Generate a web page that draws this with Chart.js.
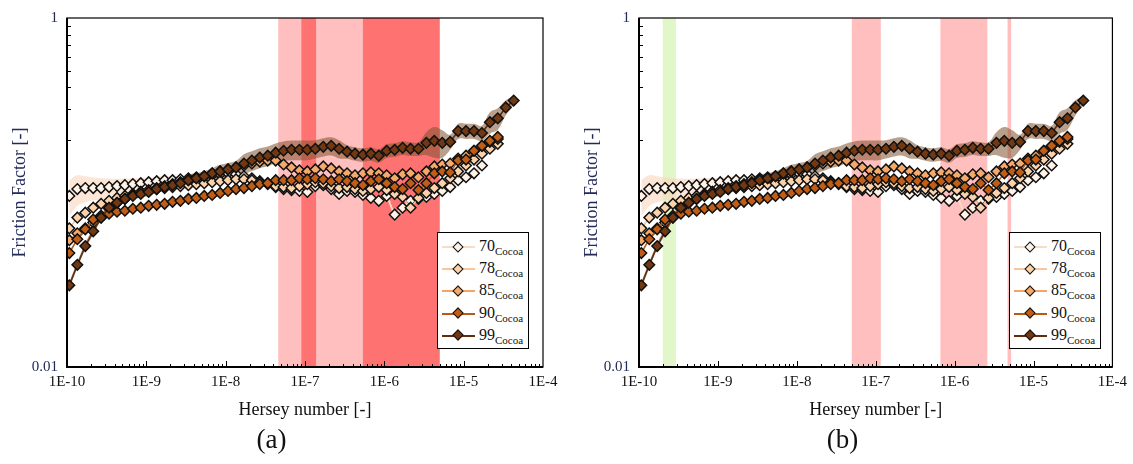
<!DOCTYPE html>
<html>
<head>
<meta charset="utf-8">
<script src="https://cdn.jsdelivr.net/npm/chart.js@4.4.1/dist/chart.umd.min.js"></script>
<style>
html,body{margin:0;padding:0;background:#fff;}
#wrap{position:relative;width:1133px;height:464px;overflow:hidden;font-family:"Liberation Serif","DejaVu Serif",serif;}
.panel{position:absolute;top:0;height:464px;}
.panel canvas{position:absolute;left:0;top:0;}
.legend{position:absolute;left:437px;top:232px;width:92px;height:117px;border:1.5px solid #000;background:#fff;box-sizing:border-box;}
.row{position:absolute;left:0;width:90px;height:22px;}
.ln{position:absolute;left:4px;width:33px;height:2px;top:10px;}
.dm{position:absolute;left:15.5px;top:6.5px;width:6px;height:6px;transform:rotate(45deg);border:1.5px solid #111;}
.lab{position:absolute;left:41px;top:1px;font-size:16px;line-height:18px;color:#111;white-space:nowrap;}
.lab sub{font-size:11px;vertical-align:-4px;line-height:0;}
</style>
</head>
<body>
<div id="wrap">
  <div class="panel" id="pa" style="left:0;width:566px;"><canvas id="ca" width="566" height="464"></canvas><div class="legend" id="la"></div></div>
  <div class="panel" id="pb" style="left:572px;width:561px;"><canvas id="cb" width="561" height="464"></canvas><div class="legend" id="lb"></div></div>
</div>
<script>
// ---------------- DATA ----------------
const hersey = [
 1.07e-10,1.35e-10,1.70e-10,2.14e-10,2.69e-10,3.39e-10,4.27e-10,5.37e-10,6.76e-10,8.51e-10,
 1.07e-9,1.35e-9,1.70e-9,2.14e-9,2.69e-9,3.39e-9,4.27e-9,5.37e-9,6.76e-9,8.51e-9,
 1.07e-8,1.35e-8,1.70e-8,2.14e-8,2.69e-8,3.39e-8,4.27e-8,5.37e-8,6.76e-8,8.51e-8,
 1.07e-7,1.35e-7,1.70e-7,2.14e-7,2.69e-7,3.39e-7,4.27e-7,5.37e-7,6.76e-7,8.51e-7,
 1.07e-6,1.35e-6,1.70e-6,2.14e-6,2.69e-6,3.39e-6,4.27e-6,5.37e-6,6.76e-6,8.51e-6,
 1.07e-5,1.35e-5,1.70e-5,2.14e-5,2.69e-5,3.39e-5,4.27e-5
];
const cocoa70 = [0.0956,0.1047,0.1060,0.1060,0.1060,0.1074,0.1088,0.1102,0.1117,0.1131,
 0.1146,0.1161,0.1176,0.1176,0.1191,0.1207,0.1223,0.1239,0.1255,0.1271,
 0.1288,0.1271,0.1239,0.1207,0.1161,0.1131,0.1074,0.1047,0.1033,0.1020,
 0.1007,0.1088,0.1102,0.1047,0.0981,0.1020,0.1007,0.0968,0.0931,0.0896,
 0.0956,0.0747,0.0818,0.0896,0.0919,0.0943,0.0981,0.1020,0.1074,0.1176,
 0.1223,0.1288,0.1428];
const cocoa78 = [0.0623,0.0718,0.0766,0.0818,0.0861,0.0896,0.0931,0.0956,0.0981,0.1007,
 0.1020,0.1047,0.1060,0.1074,0.1088,0.1102,0.1117,0.1131,0.1146,0.1161,
 0.1176,0.1191,0.1191,0.1176,0.1146,0.1117,0.1088,0.1074,0.1060,0.1088,
 0.1117,0.1146,0.1131,0.1088,0.1060,0.1074,0.1047,0.1020,0.1047,0.1074,
 0.1033,0.0981,0.0943,0.0818,0.0931,0.0994,0.1060,0.1131,0.1207,0.1321,
 0.1428,0.1544,0.1669,0.1781,0.1900];
const cocoa85 = [0.0533,0.0584,0.0623,0.0673,0.0718,0.0807,0.0873,0.0919,0.0968,0.1007,
 0.1033,0.1060,0.1088,0.1117,0.1146,0.1176,0.1207,0.1239,0.1288,0.1321,
 0.1356,0.1392,0.1428,0.1466,0.1505,0.1524,0.1524,0.1447,0.1392,0.1339,
 0.1321,0.1356,0.1410,0.1374,0.1321,0.1288,0.1255,0.1288,0.1304,0.1288,
 0.1255,0.1207,0.1271,0.1288,0.1223,0.1321,0.1410,0.1447,0.1466,0.1564,
 0.1626,0.1735,0.1851,0.1950,0.2028];
const cocoa90 = [0.0450,0.0540,0.0615,0.0700,0.0737,0.0756,0.0776,0.0786,0.0807,0.0818,
 0.0839,0.0850,0.0861,0.0884,0.0896,0.0919,0.0931,0.0956,0.0968,0.0994,
 0.1020,0.1047,0.1060,0.1088,0.1117,0.1131,0.1176,0.1176,0.1176,0.1207,
 0.1191,0.1207,0.1191,0.1161,0.1191,0.1161,0.1131,0.1102,0.1161,0.1191,
 0.1131,0.1074,0.1047,0.1131,0.1033,0.1131,0.1288,0.1321,0.1304,0.1524,
 0.1544,0.1735,0.1851,0.1976,0.2082];
const cocoa99 = [0.0294,0.0385,0.0493,0.0599,0.0718,0.0818,0.0873,0.0919,0.0956,0.0981,
 0.1007,0.1047,0.1074,0.1102,0.1131,0.1176,0.1207,0.1239,0.1288,0.1321,
 0.1356,0.1392,0.1466,0.1524,0.1585,0.1626,0.1691,0.1735,0.1758,0.1758,
 0.1758,0.1781,0.1828,0.1851,0.1781,0.1713,0.1669,0.1647,0.1669,0.1626,
 0.1735,0.1758,0.1804,0.1781,0.1781,0.1925,0.1976,0.1925,0.1950,0.2250,
 0.2250,0.2250,0.2193,0.2528,0.2663,0.3072,0.3363];
// relative standard deviation (shaded envelopes)
const sd70 = [0.23,0.20,0.17,0.15,0.14,0.12,0.10,0.09,0.08,0.07,
 0.06,0.06,0.05,0.05,0.05,0.05,0.05,0.05,0.05,0.05,
 0.04,0.04,0.04,0.04,0.04,0.04,0.04,0.04,0.04,0.04,
 0.04,0.04,0.04,0.04,0.04,0.04,0.04,0.04,0.04,0.04,
 0.04,0.04,0.04,0.04,0.04,0.04,0.04,0.04,0.04,0.04,
 0.04,0.04,0.04];
const sd99 = [0.04,0.04,0.04,0.04,0.04,0.04,0.04,0.04,0.04,0.05,
 0.05,0.05,0.05,0.05,0.05,0.07,0.07,0.07,0.07,0.09,
 0.09,0.09,0.13,0.13,0.13,0.13,0.13,0.13,0.13,0.13,
 0.13,0.12,0.12,0.12,0.12,0.09,0.09,0.09,0.09,0.09,
 0.09,0.09,0.09,0.09,0.09,0.15,0.20,0.18,0.10,0.10,
 0.10,0.10,0.10,0.14,0.14,0.10,0.06];
const seriesNames = ['70','78','85','90','99'];
const xTickValues = [1e-10,1e-9,1e-8,1e-7,1e-6,1e-5,1e-4];
const yTickValues = [0.01,1];
const yMinorValues = [0.2,0.3,0.4,0.5,0.6,0.7,0.8,0.9];
// highlighted Hersey ranges
const rangeStartA = [4.60e-8,9.00e-8,5.35e-7];
const rangeEndA   = [5.35e-7,1.38e-7,5.00e-6];
const rangeKindA  = ['light','dark','dark'];
const rangeStartB = [2.00e-10,4.97e-8,6.60e-7,4.69e-6];
const rangeEndB   = [2.95e-10,1.16e-7,2.60e-6,5.20e-6];
const rangeKindB  = ['green','light','light','light'];

// ---------------- STYLE ----------------
const FONT = "'Liberation Serif','Times New Roman',serif";
const NAVY = '#222a58';
const fillCol = {'70':'#fff2e6','78':'#fcd2ab','85':'#f5aa6c','90':'#c05e18','99':'#713811'};
const lineCol = {'70':'#f9dcc6','78':'#f8c59c','85':'#f2a566','90':'#b85a16','99':'#5e2e0e'};
const kindCol = {light:'#ffbfbf', dark:'#ff7272', green:'#e1f6c9'};
const seriesVals = {'70':cocoa70,'78':cocoa78,'85':cocoa85,'90':cocoa90,'99':cocoa99};

function pts(vals){ return vals.map((v,i)=>({x:hersey[i], y:v})); }
function env(vals, sd, sign){ return vals.map((v,i)=>({x:hersey[i], y:v*(1+sign*sd[i])})); }

const decor = {
  id:'decor',
  beforeDatasetsDraw(chart, args, o){
    const {ctx, chartArea:a, scales:{x}} = chart;
    ctx.save();
    for (let i=0;i<o.starts.length;i++){
      const x1 = x.getPixelForValue(o.starts[i]);
      const x2 = x.getPixelForValue(o.ends[i]);
      ctx.fillStyle = kindCol[o.kinds[i]];
      ctx.fillRect(x1, a.top, x2-x1, a.bottom-a.top);
    }
    ctx.restore();
  },
  afterDatasetsDraw(chart){
    const {ctx, chartArea:a, scales:{x,y}} = chart;
    ctx.save();
    ctx.strokeStyle = '#000';
    ctx.lineWidth = 1;
    ctx.beginPath();
    for (let d=-10; d<=-5; d++){
      for (let m=1; m<=9; m++){
        const px = Math.round(x.getPixelForValue(m*Math.pow(10,d)))+0.5;
        const len = m===1?6:3;
        ctx.moveTo(px, a.bottom); ctx.lineTo(px, a.bottom-len);
      }
    }
    yMinorValues.forEach(v=>{
      const py = Math.round(y.getPixelForValue(v))+0.5;
      ctx.moveTo(a.left, py); ctx.lineTo(a.left+4, py);
    });
    ctx.stroke();
    ctx.lineWidth = 1.2;
    ctx.strokeRect(a.left, a.top, a.right-a.left, a.bottom-a.top);
    ctx.lineWidth = 2;
    ctx.beginPath();
    ctx.moveTo(a.left, a.top); ctx.lineTo(a.left, a.bottom); ctx.lineTo(a.right, a.bottom);
    ctx.stroke();
    ctx.restore();
  }
};

function makeChart(id, caption, padRight, starts, ends, kinds){
  const datasets = [];
  ['99','90','85','78','70'].forEach((n,i)=>{
    datasets.push({
      label:n, data:pts(seriesVals[n]), order:i+1,
      borderColor:lineCol[n], borderWidth:1.6, tension:0,
      pointStyle:'rectRot', pointRadius:5.3, pointBackgroundColor:fillCol[n],
      pointBorderColor:'#111', pointBorderWidth:1.5, fill:false
    });
  });
  datasets.push({label:'sd99+', data:env(cocoa99,sd99,1), order:20, pointRadius:0, borderWidth:0, tension:0.4, fill:false});
  datasets.push({label:'sd99-', data:env(cocoa99,sd99,-1), order:20, pointRadius:0, borderWidth:0, tension:0.4, fill:'-1', backgroundColor:'rgba(128,82,45,0.55)'});
  datasets.push({label:'sd70+', data:env(cocoa70,sd70,1), order:20, pointRadius:0, borderWidth:0, tension:0.4, fill:false});
  datasets.push({label:'sd70-', data:env(cocoa70,sd70,-1), order:20, pointRadius:0, borderWidth:0, tension:0.4, fill:'-1', backgroundColor:'rgba(250,214,188,0.6)'});

  return new Chart(document.getElementById(id), {
    type:'line',
    data:{datasets},
    plugins:[decor],
    options:{
      responsive:false, animation:false, devicePixelRatio:1,
      layout:{padding:{top:12,right:padRight,bottom:0,left:0}},
      plugins:{
        legend:{display:false}, tooltip:{enabled:false},
        title:{display:true, text:caption, position:'bottom', color:'#111',
               font:{family:FONT,size:27,weight:'normal'}, padding:{top:0,bottom:6.8}},
        decor:{starts, ends, kinds}
      },
      scales:{
        x:{type:'logarithmic', min:1e-10, max:1e-4,
           grid:{display:false, drawTicks:false}, border:{display:false},
           afterBuildTicks:s=>{ s.ticks = xTickValues.map(v=>({value:v})); },
           afterFit:s=>{ s.height = 57.8; },
           ticks:{autoSkip:false, maxRotation:0, minRotation:0, padding:6, color:'#111',
                  font:{family:FONT,size:15},
                  callback:v=>'1E'+Math.round(Math.log10(v))},
           title:{display:true, text:'Hersey number [-]', color:'#111',
                  font:{family:FONT,size:18}, padding:{top:0,bottom:4}}
        },
        y:{type:'logarithmic', min:0.01, max:1,
           grid:{display:false, drawTicks:false}, border:{display:false},
           afterBuildTicks:s=>{ s.ticks = yTickValues.map(v=>({value:v})); },
           afterFit:s=>{ s.width = 67; },
           ticks:{padding:9, color:NAVY, font:{family:FONT,size:15},
                  callback:v=>(v===1?'1':(Math.abs(v-0.01)<1e-9?'0.01':''))},
           title:{display:true, text:'Friction Factor [-]', color:NAVY,
                  font:{family:FONT,size:18}, padding:{top:9,bottom:0}}
        }
      }
    }
  });
}

function buildLegend(id){
  const box = document.getElementById(id);
  seriesNames.forEach((n,i)=>{
    const row = document.createElement('div');
    row.className='row';
    row.style.top = (3 + i*22.2) + 'px';
    row.innerHTML = '<div class="ln" style="background:'+lineCol[n]+'"></div>'+
      '<div class="dm" style="background:'+fillCol[n]+'"></div>'+
      '<div class="lab">'+n+'<sub>Cocoa</sub></div>';
    box.appendChild(row);
  });
}

makeChart('ca','(a)',23,rangeStartA,rangeEndA,rangeKindA);
makeChart('cb','(b)',20,rangeStartB,rangeEndB,rangeKindB);
buildLegend('la');
buildLegend('lb');
</script>
</body>
</html>
